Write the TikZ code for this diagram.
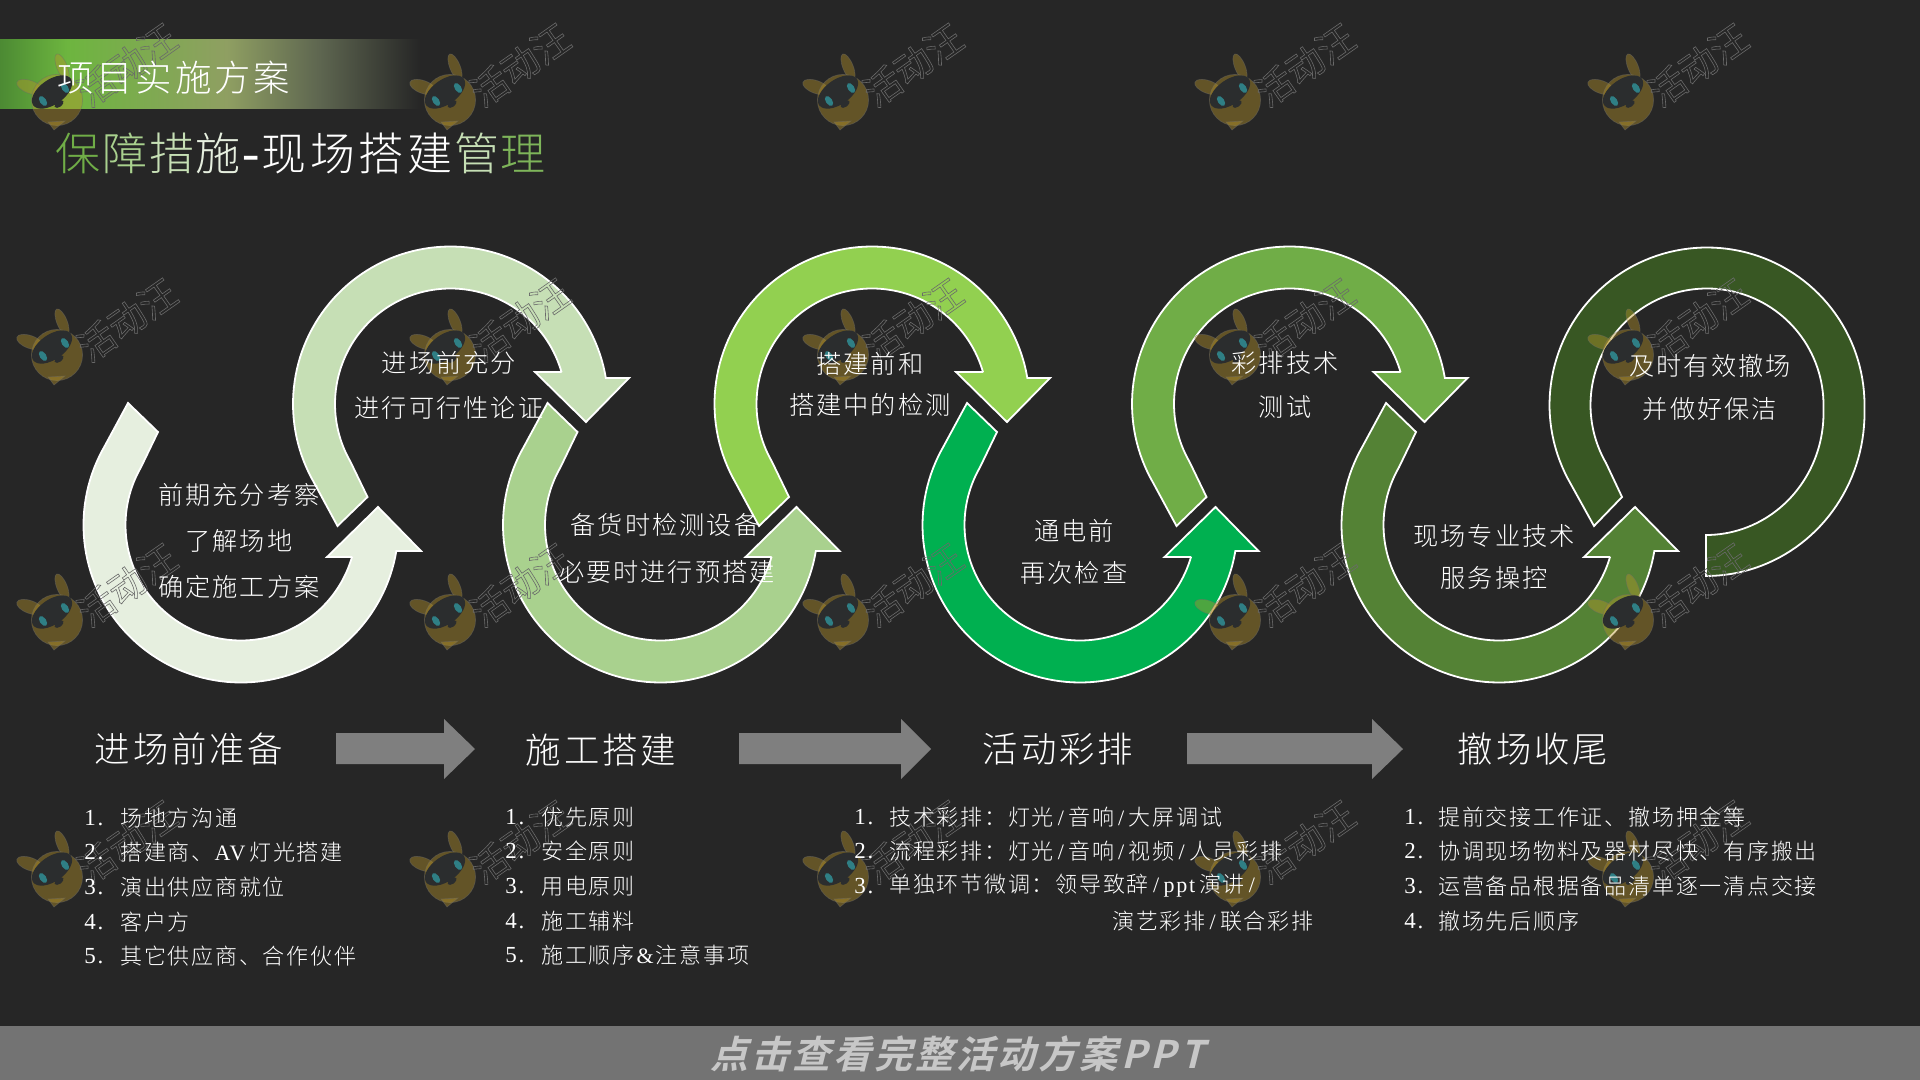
\documentclass[tikz,border=0pt]{standalone}
\usepackage{fontspec}
\newfontfamily\cjk[LetterSpace=8]{Noto Sans CJK SC Light}
\newfontfamily\lat[LetterSpace=8]{Liberation Serif}
\newfontfamily\wmfont{Noto Sans CJK SC}
\newfontfamily\cta[FakeSlant=0.25,LetterSpace=8]{Noto Sans CJK SC Bold}
\newcommand{\fs}[1]{\fontsize{#1}{#1}\selectfont}
\newcommand{\slashch}{\kern2pt{\lat/}\kern2.2pt}
\newcommand{\cc}[2]{\textcolor{#1}{#2}\kern0.9pt}
\definecolor{bgc}{HTML}{262626}
\definecolor{barc}{HTML}{737373}
\definecolor{grayarrow}{HTML}{7F7F7F}
\definecolor{bandA}{HTML}{4C8A33}
\definecolor{bandB}{HTML}{6DB53F}
\definecolor{bandC}{HTML}{8F9F62}
\definecolor{bandD}{HTML}{5E6650}
\definecolor{sA}{HTML}{E6EFDF}
\definecolor{sB}{HTML}{C6DFB5}
\definecolor{sC}{HTML}{A9D18E}
\definecolor{sD}{HTML}{92D050}
\definecolor{sE}{HTML}{00B050}
\definecolor{sF}{HTML}{70AD47}
\definecolor{sG}{HTML}{548235}
\definecolor{sH}{HTML}{385723}
\definecolor{wmbody}{HTML}{B8962A}
\definecolor{wmline}{HTML}{6A6A6A}
\definecolor{wmdark}{HTML}{2B2D2E}
\definecolor{wmeye}{HTML}{2F7F85}
\pgfdeclarehorizontalshading{bandshade}{100bp}{color(0bp)=(bandA); color(25bp)=(bandA); color(33bp)=(bandB); color(52bp)=(bandC); color(63bp)=(bandD); color(75bp)=(bgc); color(100bp)=(bgc)}
\tikzset{
  swooshshape/.style={draw=white,line width=0.9pt,line join=miter,miter limit=10},
  grayshape/.style={fill=grayarrow,draw=none},
  looplabel/.style={inner sep=0pt,text=white,font=\cjk\fs{12.6}},
  heading/.style={inner sep=0pt,text=white,font=\cjk\fs{17.7}},
  itemnum/.style={inner sep=0pt,anchor=west,text=white,font=\lat\fs{11.5}},
  itemtext/.style={inner sep=0pt,anchor=west,text=white,font=\cjk\fs{11}},
  wmpart/.style={fill=wmbody,draw=wmline,line width=0.35pt},
}
% #3 = +1 lower loop (opens upward), -1 upper loop (opens downward); #5 = head reach
\newcommand{\swoosh}[5]{%
\begin{scope}[shift={(#1,#2)}]
\filldraw[swooshshape,fill=#4] (-113,{#3*(-122)})
 -- plot[domain=210:9.5,samples=90] ({157.5*cos(\x)},{#3*157.5*sin(\x)})
 -- (#5,{#3*26}) -- ({#5-43},{#3*(-18)}) -- ({#5-94},{#3*32}) -- (111,{#3*32})
 -- plot[domain=16:210,samples=90] ({115.5*cos(\x)},{#3*115.5*sin(\x)})
 -- (-83,{#3*(-93)}) -- cycle;
\end{scope}}
\newcommand{\wmark}[2]{%
\begin{scope}[shift={(#1,#2)}]
\begin{scope}[opacity=0.42]
\filldraw[wmpart,shift={(-27,-13)},rotate=-20] (0,0) ellipse[x radius=7pt,y radius=3.2pt];
\filldraw[wmpart,shift={(5,-33)},rotate=-68] (0,0) ellipse[x radius=7pt,y radius=2.6pt];
\filldraw[wmpart] (0,0) circle[radius=12.8pt];
\filldraw[wmpart] (-9,22) -- (-3,30) -- (8,21) -- cycle;
\end{scope}
\fill[wmdark,shift={(-5,-8)},rotate=35] (0,0) ellipse[x radius=11.5pt,y radius=6.2pt];
\fill[wmeye,shift={(-14,1)},rotate=35] (0,0) ellipse[x radius=1.6pt,y radius=2.8pt];
\fill[wmeye,shift={(8,-12)},rotate=35] (0,0) ellipse[x radius=1.6pt,y radius=2.8pt];
\fill[wmdark,shift={(2,4)},rotate=35] (0,0) ellipse[x radius=2.6pt,y radius=1.5pt];
\node[inner sep=0pt,rotate=35,text=wmline,font=\wmfont\fs{18.5}] at (70,-35) {\special{pdf:code 1 Tr 0.3 w}活动汪\special{pdf:code 0 Tr}};
\end{scope}}
\begin{document}
\begin{tikzpicture}[x=0.5pt,y=-0.5pt]
\useasboundingbox (0,0) rectangle (1920,1080);
\fill[bgc] (0,0) rectangle (1920,1080);
\fill[barc] (0,1026) rectangle (1920,1080);
\shade[shading=bandshade] (0,40) rectangle (420,109);

\swoosh{241}{525}{1}{sA}{180}
\swoosh{450.5}{404}{-1}{sB}{178.5}
\swoosh{660.5}{525}{1}{sC}{179}
\swoosh{872}{404}{-1}{sD}{178}
\swoosh{1080}{525}{1}{sE}{178.5}
\swoosh{1289.5}{404}{-1}{sF}{178}
\swoosh{1499}{525}{1}{sG}{179}
% closing ring
\filldraw[swooshshape,fill=sH] (1594,526)
 -- plot[domain=150:360,samples=90] ({1707+157.5*cos(\x)},{405+157.5*sin(\x)})
 -- plot[domain=0:90,samples=40] ({1706+158.5*cos(\x)},{413+163*sin(\x)})
 -- (1706,535)
 -- plot[domain=90:0,samples=40] ({1706+117.5*cos(\x)},{413+122*sin(\x)})
 -- plot[domain=360:150,samples=90] ({1707+116.5*cos(\x)},{405+116.5*sin(\x)})
 -- (1622,497) -- cycle;

% gray process arrows
\fill[grayshape] (336,733) -- (444,733) -- (444,719) -- (475,749) -- (444,779) -- (444,764) -- (336,764) -- cycle;
\fill[grayshape] (739,733) -- (901,733) -- (901,719) -- (931,749) -- (901,779) -- (901,764) -- (739,764) -- cycle;
\fill[grayshape] (1187,733) -- (1372,733) -- (1372,719) -- (1403,749) -- (1372,779) -- (1372,764) -- (1187,764) -- cycle;

% watermarks
\foreach \wy in {100,355,620,877}{\foreach \wx in {57,450,843,1235,1628}{\wmark{\wx}{\wy}}}

% titles
\node[inner sep=0pt,anchor=west,text=white,font=\cjk\fs{18.2}] (band) at (57,78) {项目实施方案};
\node[inner sep=0pt,anchor=west,text=white,font=\cjk\fs{22.5}] (title) at (55,153) {\cc{sF}{保}\cc{sC}{障}\cc{sB}{措}\cc{sA}{施}{\lat\fs{26}-}\kern0.8pt现场搭建\kern0.9pt\cc{sB}{管}\cc{sF!90!white}{理}};
\node[inner sep=0pt,text=black!22,font=\cta\fs{19}] (cta) at (957,1054) {点击查看完整活动方案\kern2pt P\kern2pt P\kern2pt T};

% loop labels
\node[looplabel] (a1) at (239,495) {前期充分考察};
\node[looplabel] (a2) at (239,541) {了解场地};
\node[looplabel] (a3) at (239,587) {确定施工方案};
\node[looplabel] (b1) at (449,363) {进场前充分};
\node[looplabel] (b2) at (449,408) {进行可行性论证};
\node[looplabel] (c1) at (665,525) {备货时检测设备};
\node[looplabel] (c2) at (667,572) {必要时进行预搭建};
\node[looplabel] (d1) at (870,364) {搭建前和};
\node[looplabel] (d2) at (870,405) {搭建中的检测};
\node[looplabel] (e1) at (1074,531) {通电前};
\node[looplabel] (e2) at (1074,573) {再次检查};
\node[looplabel] (f1) at (1285,363) {彩排技术};
\node[looplabel] (f2) at (1285,407) {测试};
\node[looplabel] (g1) at (1494,536) {现场专业技术};
\node[looplabel] (g2) at (1494,578) {服务操控};
\node[looplabel] (h1) at (1710,366) {及时有效撤场};
\node[looplabel] (h2) at (1710,409) {并做好保洁};

% section headings
\node[heading] (s1) at (189,749) {进场前准备};
\node[heading] (s2) at (601,750) {施工搭建};
\node[heading] (s3) at (1058,749) {活动彩排};
\node[heading] (s4) at (1533,749) {撤场收尾};

% list 1
\node[itemnum] (pn1) at (84,818) {1.}; \node[itemtext] (p1) at (120,818) {场地方沟通};
\node[itemnum] (pn2) at (84,852) {2.}; \node[itemtext] (p2) at (120,852) {搭建商、\kern0.5pt{\lat AV}\kern2pt 灯光搭建};
\node[itemnum] (pn3) at (84,887) {3.}; \node[itemtext] (p3) at (120,887) {演出供应商就位};
\node[itemnum] (pn4) at (84,922) {4.}; \node[itemtext] (p4) at (120,922) {客户方};
\node[itemnum] (pn5) at (84,956) {5.}; \node[itemtext] (p5) at (120,956) {其它供应商、合作伙伴};
% list 2
\node[itemnum] (qn1) at (505,817) {1.}; \node[itemtext] (q1) at (541,817) {优先原则};
\node[itemnum] (qn2) at (505,851) {2.}; \node[itemtext] (q2) at (541,851) {安全原则};
\node[itemnum] (qn3) at (505,886) {3.}; \node[itemtext] (q3) at (541,886) {用电原则};
\node[itemnum] (qn4) at (505,921) {4.}; \node[itemtext] (q4) at (541,921) {施工辅料};
\node[itemnum] (qn5) at (505,955) {5.}; \node[itemtext] (q5) at (541,955) {施工顺序\kern1pt{\lat\&}\kern1pt注意事项};
% list 3
\node[itemnum] (rn1) at (854,817) {1.}; \node[itemtext] (r1) at (889,817) {技术彩排：灯光\slashch 音响\slashch 大屏调试};
\node[itemnum] (rn2) at (854,851) {2.}; \node[itemtext] (r2) at (889,851) {流程彩排：灯光\slashch 音响\slashch 视频\slashch 人员彩排};
\node[itemnum] (rn3) at (854,886) {3.}; \node[itemtext] (r3) at (889,886) {单独环节微调：领导致辞\slashch{\lat ppt}\kern2pt 演讲\slashch};
\node[itemtext] (r4) at (1112,921) {演艺彩排\slashch 联合彩排};
% list 4
\node[itemnum] (tn1) at (1404,817) {1.}; \node[itemtext] (t1) at (1438,817) {提前交接工作证、撤场押金等};
\node[itemnum] (tn2) at (1404,851) {2.}; \node[itemtext] (t2) at (1438,851) {协调现场物料及器材尽快、有序搬出};
\node[itemnum] (tn3) at (1404,886) {3.}; \node[itemtext] (t3) at (1438,886) {运营备品根据备品清单逐一清点交接};
\node[itemnum] (tn4) at (1404,921) {4.}; \node[itemtext] (t4) at (1438,921) {撤场先后顺序};
\end{tikzpicture}
\end{document}
